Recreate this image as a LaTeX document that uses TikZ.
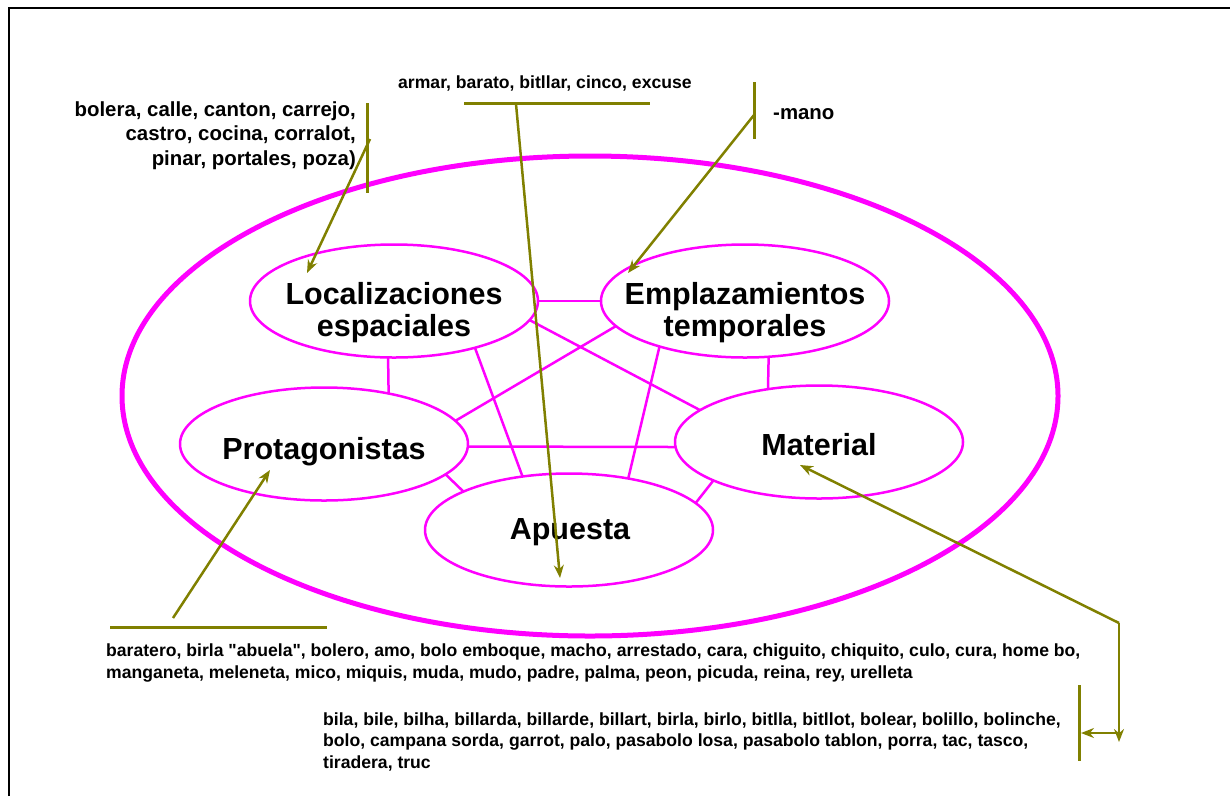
\documentclass[tikz,border=0pt]{standalone}
\usepackage{fontspec}
\setmainfont{Liberation Sans}[Ligatures=TeXOff]
\usetikzlibrary{arrows.meta,shapes.geometric,calc}
\definecolor{mag}{HTML}{FF00FF}
\definecolor{oli}{HTML}{808000}
\begin{document}
\begin{tikzpicture}[x=1pt,y=-1pt,
  cat/.style={draw=mag, line width=2.5pt, ellipse, minimum width=288pt, minimum height=113pt, inner sep=0pt, outer sep=0pt},
  ttl/.style={font=\fontsize{30.5}{32}\selectfont\bfseries, align=center, inner sep=0pt},
  link/.style={draw=mag, line width=2.5pt},
  bar/.style={draw=oli, line width=3pt},
  annarrow/.style={draw=oli, line width=2.5pt, -{Stealth[length=13pt,width=10pt]}},
  lblbig/.style={font=\fontsize{20.4}{24.5}\selectfont\bfseries, inner sep=0pt},
  lblsmall/.style={font=\fontsize{17.6}{21.3}\selectfont\bfseries, inner sep=0pt}]
\useasboundingbox (0,0) rectangle (1230,796);
\draw[line width=2pt] (9,796) -- (9,8) -- (1230,8);
% outer ellipse
\node[draw=mag, line width=5pt, ellipse, minimum width=936pt, minimum height=480pt, inner sep=0pt] (outer) at (590,396) {};
% category ellipses
\node[cat] (loc) at (394,301) {};
\node[cat] (emp) at (745,301) {};
\node[cat] (pro) at (324,444) {};
\node[cat] (mat) at (819,442) {};
\node[cat] (apu) at (569,530) {};
\node[ttl, anchor=base] (tloc) at (394,336) {Localizaciones\\espaciales};
\node[ttl, anchor=base] (temp) at (745,336) {Emplazamientos\\temporales};
\node[ttl, anchor=base] (tpro) at (324,459) {Protagonistas};
\node[ttl, anchor=base] (tmat) at (819,455) {Material};
\node[ttl, anchor=base] (tapu) at (570,539) {Apuesta};
% links
\draw[link] (loc.0) -- (emp.180);
\draw[link] (loc.-96) -- (pro.38);
\draw[link] (emp.-67) -- (mat.134);
\draw[link] (pro.-1) -- (mat.182);
\draw[link] (pro.-14.4) -- (apu.160.3);
\draw[link] (mat.200.3) -- (apu.12.1);
\draw[link] (loc.-30.3) -- (apu.131);
\draw[link] (emp.208.5) -- (apu.41.4);
\draw[link] (loc.-8.9) -- (mat.165.6);
\draw[link] (emp.191.8) -- (pro.10.3);
% annotation texts
\node[lblbig, anchor=base east, align=right] (nloc) at (356,165) {bolera, calle, canton, carrejo,\\castro, cocina, corralot,\\pinar, portales, poza)};
\node[lblsmall, anchor=base west] (napu) at (398,88) {armar, barato, bitllar, cinco, excuse};
\node[lblbig, anchor=base west] (nemp) at (773,119) {-mano};
\node[lblsmall, anchor=base west, align=left] (npro) at (106,678) {baratero, birla "abuela", bolero, amo, bolo emboque, macho, arrestado, cara, chiguito, chiquito, culo, cura, home bo,\\manganeta, meleneta, mico, miquis, muda, mudo, padre, palma, peon, picuda, reina, rey, urelleta};
\node[lblsmall, anchor=base west, align=left] (nmat) at (323,768) {bila, bile, bilha, billarda, billarde, billart, birla, birlo, bitlla, bitllot, bolear, bolillo, bolinche,\\bolo, campana sorda, garrot, palo, pasabolo losa, pasabolo tablon, porra, tac, tasco,\\tiradera, truc};
% annotation connectors
\coordinate (locbarA) at (367,103);
\coordinate (locbarB) at (367,193);
\coordinate (locfrom) at (370,139);
\coordinate (loctip) at (307,273);
\coordinate (apubarA) at (464,103);
\coordinate (apubarB) at (650,103);
\coordinate (apufrom) at (516,104);
\coordinate (aputip) at (560,578);
\coordinate (empbarA) at (754,82);
\coordinate (empbarB) at (754,139);
\coordinate (empfrom) at (754,115);
\coordinate (emptip) at (628,273);
\coordinate (probarA) at (110,627);
\coordinate (probarB) at (327,627);
\coordinate (profrom) at (173,618);
\coordinate (protip) at (270,470);
\coordinate (matcorner) at (1119,623);
\coordinate (mattip) at (800,465);
\coordinate (matdown) at (1119,742);
\coordinate (matleftfrom) at (1119,733);
\coordinate (matlefttip) at (1081,733);
\coordinate (matbarA) at (1079,685);
\coordinate (matbarB) at (1079,761);
\draw[bar] (locbarA) -- (locbarB);
\draw[annarrow] (locfrom) -- (loctip);
\draw[bar] (apubarA) -- (apubarB);
\draw[annarrow] (apufrom) -- (aputip);
\draw[bar] (empbarA) -- (empbarB);
\draw[annarrow] (empfrom) -- (emptip);
\draw[bar] (probarA) -- (probarB);
\draw[annarrow] (profrom) -- (protip);
\draw[annarrow] (matcorner) -- (mattip);
\draw[annarrow] (matcorner) -- (matdown);
\draw[annarrow] (matleftfrom) -- (matlefttip);
\draw[bar] (matbarA) -- (matbarB);
\end{tikzpicture}
\end{document}
